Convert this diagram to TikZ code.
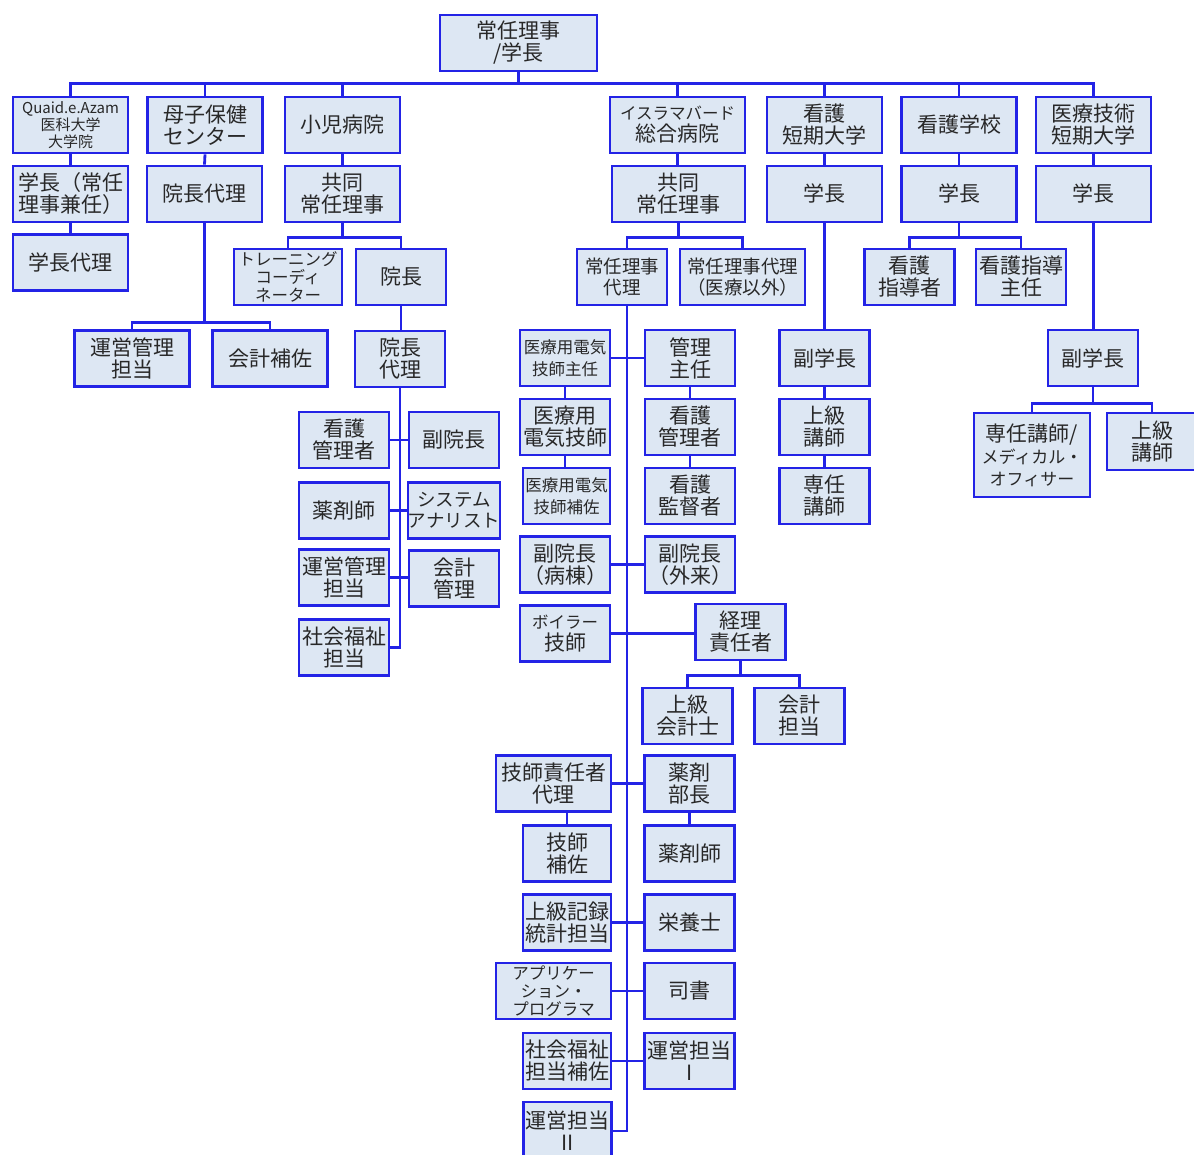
\documentclass[tikz,border=0pt]{standalone}
\usepackage{fontspec}
\setmainfont{Noto Sans CJK JP}
\definecolor{orgblue}{RGB}{35,35,230}
\definecolor{orgfill}{RGB}{221,231,243}
\definecolor{orgtext}{RGB}{40,40,40}

\begin{document}
\begin{tikzpicture}[x=1pt,y=-1pt,
  box/.style={draw=orgblue,line width=2.8pt,fill=orgfill,text=orgtext,inner sep=0pt,align=center,
    minimum width=90pt,minimum height=56pt,font=\fontsize{21}{22}\selectfont},
  wide/.style={minimum width=115pt},
  small/.style={font=\fontsize{16.5}{18}\selectfont},
  link/.style={draw=orgblue,line width=2.8pt}]
  \clip (0,0) rectangle (1194,1155);
  % head and first row
  \node[box,minimum width=157pt] (head) at (518.5,43) {常任理事\\/学長};
  \node[box,wide,font=\fontsize{15}{17}\selectfont] (qa) at (70.5,125) {Quaid.e.Azam\\医科大学\\大学院};
  \node[box,wide] (mch) at (205,125) {母子保健\\センター};
  \node[box,wide] (chh) at (342.5,125) {小児病院};
  \node[box,minimum width=135pt] (igh) at (677.5,125) {{\fontsize{16.5}{18}\selectfont イスラマバード}\\総合病院};
  \node[box,wide] (ncol) at (824.5,125) {看護\\短期大学};
  \node[box,wide] (nsch) at (959,125) {看護学校};
  \node[box,wide] (mtc) at (1093.5,125) {医療技術\\短期大学};
  % second row
  \node[box,wide] (qpres) at (70.5,194) {学長（常任\\理事兼任）};
  \node[box,wide] (mchd) at (204.5,194) {院長代理};
  \node[box,wide] (chjd) at (342.5,194) {共同\\常任理事};
  \node[box,minimum width=133pt] (ighjd) at (678.5,194) {共同\\常任理事};
  \node[box,wide] (ncolp) at (824.5,194) {学長};
  \node[box,wide] (nschp) at (959,194) {学長};
  \node[box,wide] (mtcp) at (1093.5,194) {学長};
  % third row
  \node[box,wide] (qvp) at (70.5,262.5) {学長代理};
  \node[box,small,minimum width=108pt] (chtc) at (288,277) {トレーニング\\コーディ\\ネーター};
  \node[box] (chdir) at (401,277) {院長};
  \node[box,font=\fontsize{18.5}{21}\selectfont] (igdd) at (622,277) {常任理事\\代理};
  \node[box,minimum width=125pt,font=\fontsize{18.5}{21}\selectfont] (igdn) at (742.5,277) {常任理事代理\\（医療以外）};
  \node[box] (nsins) at (909.5,277) {看護\\指導者};
  \node[box] (nsinc) at (1021,277) {看護指導\\主任};
  % mother and child health centre
  \node[box,wide] (mchadm) at (132,358.5) {運営管理\\担当};
  \node[box,wide] (mchacc) at (270,358.5) {会計補佐};
  % children's hospital
  \node[box] (chdd) at (400,359) {院長\\代理};
  \node[box] (chnm) at (344,440) {看護\\管理者};
  \node[box] (chvp) at (454,440) {副院長};
  \node[box] (chph) at (344,510.5) {薬剤師};
  \node[box,font=\fontsize{18.5}{21}\selectfont] (chsa) at (454,510.5) {システム\\アナリスト};
  \node[box] (chadm) at (344,577.5) {運営管理\\担当};
  \node[box] (chacm) at (454,578.5) {会計\\管理};
  \node[box] (chsw) at (344,647.5) {社会福祉\\担当};
  % general hospital
  \node[box,font=\fontsize{16.5}{22}\selectfont] (igel1) at (565,358) {医療用電気\\技師主任};
  \node[box] (igmm) at (690,358) {管理\\主任};
  \node[box] (igel2) at (565,427) {医療用\\電気技師};
  \node[box] (ignm) at (690,427) {看護\\管理者};
  \node[box,minimum width=87pt,font=\fontsize{16.5}{22}\selectfont] (igel3) at (566.5,496) {医療用電気\\技師補佐};
  \node[box] (igns) at (690,496) {看護\\監督者};
  \node[box] (igvw) at (565,564.5) {副院長\\（病棟）};
  \node[box] (igvo) at (690,564.5) {副院長\\（外来）};
  \node[box] (igbo) at (565,633.5) {{\fontsize{16.5}{18}\selectfont ボイラー}\\技師};
  \node[box] (igfin) at (740.5,632) {経理\\責任者};
  \node[box] (igsac) at (687.5,716) {上級\\会計士};
  \node[box] (igacc) at (799.5,716) {会計\\担当};
  \node[box,wide] (igtd) at (553.5,783.5) {技師責任者\\代理};
  \node[box] (igph) at (689.5,783.5) {薬剤\\部長};
  \node[box,minimum width=88pt] (igta) at (567,853.5) {技師\\補佐};
  \node[box] (igpm) at (689.5,853.5) {薬剤師};
  \node[box,minimum width=88pt] (igrec) at (567,922.5) {上級記録\\統計担当};
  \node[box] (ignut) at (689.5,922.5) {栄養士};
  \node[box,wide,small] (igapp) at (553.5,991) {アプリケー\\ション・\\プログラマ};
  \node[box] (iglib) at (689.5,991) {司書};
  \node[box,minimum width=88pt] (igswa) at (567,1061) {社会福祉\\担当補佐};
  \node[box] (igop1) at (689.5,1061) {運営担当\\I};
  \node[box,minimum width=88pt,minimum height=58pt] (igop2) at (567.5,1131) {運営担当\\II};
  % nursing college
  \node[box] (ncvp) at (824.5,358) {副学長};
  \node[box] (ncsl) at (824.5,427) {上級\\講師};
  \node[box] (nclc) at (824.5,496) {専任\\講師};
  % medical technology college
  \node[box] (mtvp) at (1093,358) {副学長};
  \node[box,minimum width=116pt,minimum height=84pt] (mtlc) at (1032,455) {専任講師/\\{\fontsize{17}{19}\selectfont メディカル・}\\{\fontsize{17}{19}\selectfont オフィサー}};
  \node[box,minimum height=57pt] (mtsl) at (1152,441.5) {上級\\講師};

  % top level bus
  \draw[link] (head.south) -- ++(0,11) -| (qa.north);
  \draw[link] (head.south) -- ++(0,11) -| (mch.north);
  \draw[link] (head.south) -- ++(0,11) -| (chh.north);
  \draw[link] (head.south) -- ++(0,11) -| (igh.north);
  \draw[link] (head.south) -- ++(0,11) -| (ncol.north);
  \draw[link] (head.south) -- ++(0,11) -| (nsch.north);
  \draw[link] (head.south) -- ++(0,11) -| (mtc.north);
  % first to second row
  \draw[link] (qa.south) -- (qpres.north);
  \draw[link] (qpres.south) -- (qvp.north);
  \draw[link] (mch.south) -- (mchd.north);
  \draw[link] (chh.south) -- (chjd.north);
  \draw[link] (igh.south) -- (igh.south |- ighjd.north);
  \draw[link] (ncol.south) -- (ncolp.north);
  \draw[link] (nsch.south) -- (nschp.north);
  \draw[link] (mtc.south) -- (mtcp.north);
  % branches
  \draw[link] (mchd.south) -- ++(0,99) -| (mchadm.north);
  \draw[link] (mchd.south) -- ++(0,99) -| (mchacc.north);
  \draw[link] (chjd.south) -- ++(0,14) -| (chtc.north);
  \draw[link] (chjd.south) -- ++(0,14) -| (chdir.north);
  \draw[link] (ighjd.south) -- ++(0,14) -| ([xshift=5pt]igdd.north);
  \draw[link] (ighjd.south) -- ++(0,14) -| (igdn.north);
  \draw[link] (nschp.south) -- ++(0,14) -| (nsins.north);
  \draw[link] (nschp.south) -- ++(0,14) -| (nsinc.north);
  % children's hospital
  \draw[link] (chdir.south) -- (chdir.south |- chdd.north);
  \draw[link] (chdd.south) |- (chsw.east);
  \draw[link] (chnm.east) -- (chvp.west);
  \draw[link] (chph.east) -- (chsa.west);
  \draw[link] (chadm.east) -- (chadm.east -| chacm.west);
  % general hospital
  \draw[link] ([xshift=5pt]igdd.south) |- (igop2.east);
  \draw[link] (igel1.east) -- (igmm.west);
  \draw[link] (igel1.south) -- (igel2.north);
  \draw[link] (igel2.south) -- (igel2.south |- igel3.north);
  \draw[link] (igmm.south) -- (ignm.north);
  \draw[link] (ignm.south) -- (igns.north);
  \draw[link] (igvw.east) -- (igvo.west);
  \draw[link] (igbo.east) -- (igbo.east -| igfin.west);
  \draw[link] (igfin.south) -- ++(0,14) -| (igsac.north);
  \draw[link] (igfin.south) -- ++(0,14) -| (igacc.north);
  \draw[link] (igtd.east) -- (igph.west);
  \draw[link] (igtd.south -| igta.north) -- (igta.north);
  \draw[link] (igph.south) -- (igpm.north);
  \draw[link] (igrec.east) -- (ignut.west);
  \draw[link] (igapp.east) -- (iglib.west);
  \draw[link] (igswa.east) -- (igop1.west);
  % colleges
  \draw[link] (ncolp.south) -- (ncvp.north);
  \draw[link] (ncvp.south) -- (ncsl.north);
  \draw[link] (ncsl.south) -- (nclc.north);
  \draw[link] (mtcp.south) -- (mtcp.south |- mtvp.north);
  \draw[link] (mtvp.south) -- ++(0,16) -| (mtlc.north);
  \draw[link] (mtvp.south) -- ++(0,16) -| (mtsl.north);
\end{tikzpicture}
\end{document}
